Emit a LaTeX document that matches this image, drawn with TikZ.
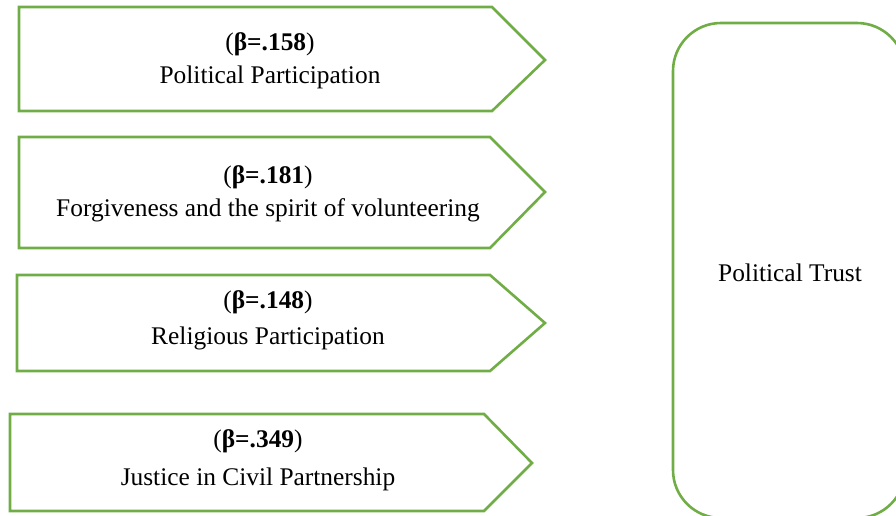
\documentclass[tikz,border=0pt]{standalone}
\usepackage{fontspec}
\setmainfont{Liberation Serif}
\definecolor{boxgreen}{RGB}{112,173,71}

\begin{document}
\begin{tikzpicture}[x=1pt,y=-1pt,
  box/.style={draw=boxgreen, line width=2.6pt, line join=miter},
  lbl/.style={align=center, inner sep=0pt, font=\fontsize{25.4}{33}\selectfont}]
\useasboundingbox (0,0) rectangle (896,515);
\clip (0,0) rectangle (896,515);
% factor arrows
\draw[box] (19,7) -- (492,7) -- (545,60) -- (492,111) -- (19,111) -- cycle;
\draw[box] (19,137) -- (490,137) -- (545,192) -- (490,248) -- (19,248) -- cycle;
\draw[box] (17,275) -- (490,275) -- (545,323) -- (490,371) -- (17,371) -- cycle;
\draw[box] (10,414) -- (484,414) -- (532,463) -- (484,511) -- (10,511) -- cycle;
\node[lbl] (pol) at (270,61) {(\textbf{β=.158})\\Political Participation};
\node[lbl] (forg) at (268,194) {(\textbf{β=.181})\\Forgiveness and the spirit of volunteering};
\node[lbl] (relig) at (268,320) {(\textbf{β=.148})\\[3pt]Religious Participation};
\node[lbl] (just) at (258,460) {(\textbf{β=.349})\\[5pt]Justice in Civil Partnership};
% dependent variable
\draw[box, rounded corners=48pt] (673,23) rectangle (905,518);
\node[lbl] (trust) at (790,273) {Political Trust};
\end{tikzpicture}
\end{document}
